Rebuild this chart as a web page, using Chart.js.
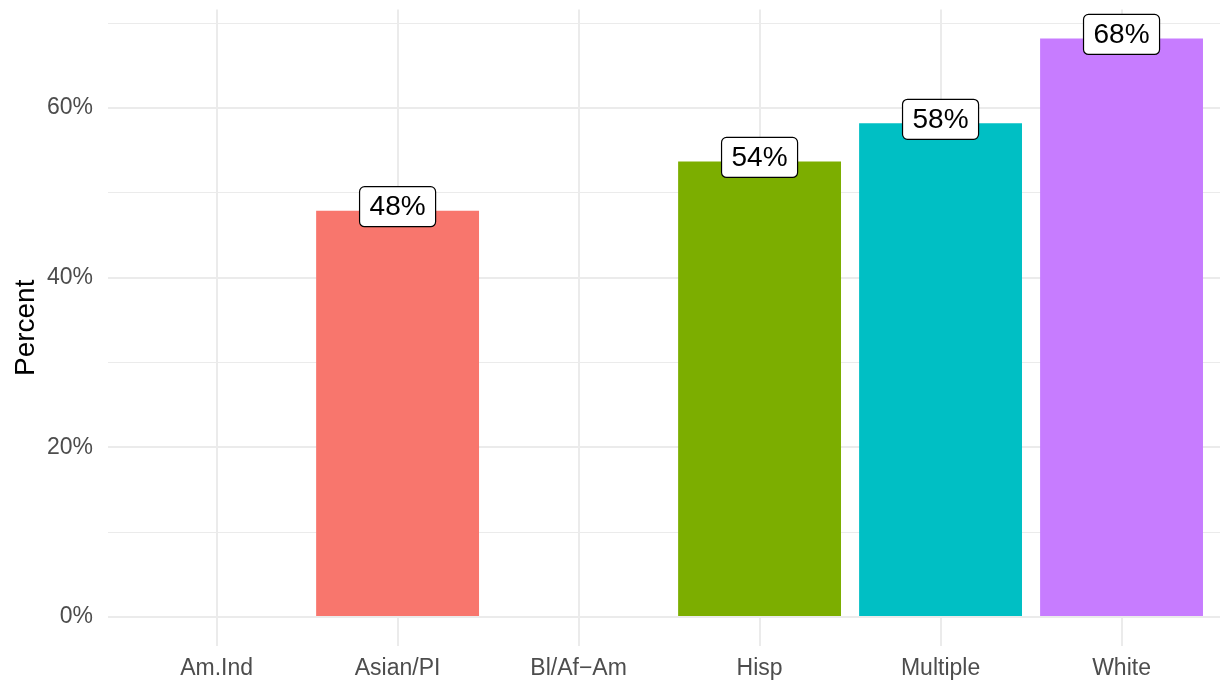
<!DOCTYPE html>
<html>
<head>
<meta charset="utf-8">
<script src="https://cdn.jsdelivr.net/npm/chart.js@4.4.0/dist/chart.umd.min.js"></script>
<style>
  html, body { margin: 0; padding: 0; background: #fff; overflow: hidden; }
  #wrap { width: 1220px; height: 680px; }
</style>
</head>
<body>
<div id="wrap"><canvas id="grafica"></canvas></div>
<script>
// categorias y valores (porcentaje)
const categorias = ['Am.Ind', 'Asian/PI', 'Bl/Af\u2212Am', 'Hisp', 'Multiple', 'White'];
const valores = [null, 47.9, null, 53.7, 58.2, 68.2];
const etiquetas = ['', '48%', '', '54%', '58%', '68%'];
const colores = ['#F8766D', '#F8766D', '#F8766D', '#7CAE00', '#00BFC4', '#C77CFF'];
const ticksY = [0, 20, 40, 60];

const fuente = '"Liberation Sans", Arial, Helvetica, sans-serif';

// etiquetas tipo geom_label sobre cada barra
const pluginEtiquetas = {
  id: 'etiquetas',
  afterDatasetsDraw(chart) {
    const ctx = chart.ctx;
    const meta = chart.getDatasetMeta(0);
    ctx.save();
    ctx.font = '28px ' + fuente;
    ctx.textAlign = 'center';
    ctx.textBaseline = 'middle';
    meta.data.forEach((bar, i) => {
      if (valores[i] == null) return;
      const txt = etiquetas[i];
      const w = ctx.measureText(txt).width + 20;
      const h = 40;
      const cx = bar.x, cy = bar.y - 4;
      ctx.beginPath();
      ctx.roundRect(cx - w / 2, cy - h / 2, w, h, 5);
      ctx.fillStyle = '#ffffff';
      ctx.fill();
      ctx.lineWidth = 1.2;
      ctx.strokeStyle = '#000000';
      ctx.stroke();
      ctx.fillStyle = '#000000';
      ctx.fillText(txt, cx, cy + 1);
    });
    ctx.restore();
  }
};

const datos = categorias.map((c, i) => ({ x: i, y: valores[i] }));

const sinPadding = s => {
  s.paddingTop = 0;
  s.paddingBottom = 0;
  s.paddingLeft = 0;
  s.paddingRight = 0;
};

new Chart(document.getElementById('grafica').getContext('2d'), {
  type: 'bar',
  data: {
    datasets: [{
      data: datos,
      backgroundColor: colores,
      borderWidth: 0,
      categoryPercentage: 1,
      barPercentage: 0.9
    }]
  },
  options: {
    responsive: true,
    maintainAspectRatio: false,
    animation: false,
    layout: { padding: { top: 9.6, left: 0, right: 0, bottom: 0 } },
    plugins: { legend: { display: false }, tooltip: { enabled: false } },
    scales: {
      x: {
        type: 'linear',
        min: -0.6,
        max: 5.544,
        offset: false,
        border: { display: false },
        grid: { color: '#ebebeb', lineWidth: 2, drawTicks: false, offset: false },
        ticks: {
          stepSize: 1,
          includeBounds: false,
          autoSkip: false,
          maxRotation: 0,
          padding: 9,
          color: '#4d4d4d',
          font: { family: fuente, size: 23 },
          callback: v => Number.isInteger(v) ? categorias[v] : ''
        },
        afterFit: s => { s.height = 34; sinPadding(s); }
      },
      y: {
        min: -3.41,
        max: 71.6,
        border: { display: false },
        grid: {
          drawTicks: false,
          color: '#ebebeb',
          lineWidth: c => (ticksY.includes(c.tick.value) ? 2 : 1)
        },
        ticks: {
          stepSize: 10,
          includeBounds: false,
          padding: 15,
          color: '#4d4d4d',
          font: { family: fuente, size: 23 },
          callback: v => ticksY.includes(v) ? v + '%' : ''
        },
        title: {
          display: true,
          text: 'Percent',
          color: '#000000',
          font: { family: fuente, size: 28 },
          padding: { top: 9, bottom: 0 }
        },
        afterFit: s => { s.width = 108; sinPadding(s); }
      }
    }
  },
  plugins: [pluginEtiquetas]
});
</script>
</body>
</html>
